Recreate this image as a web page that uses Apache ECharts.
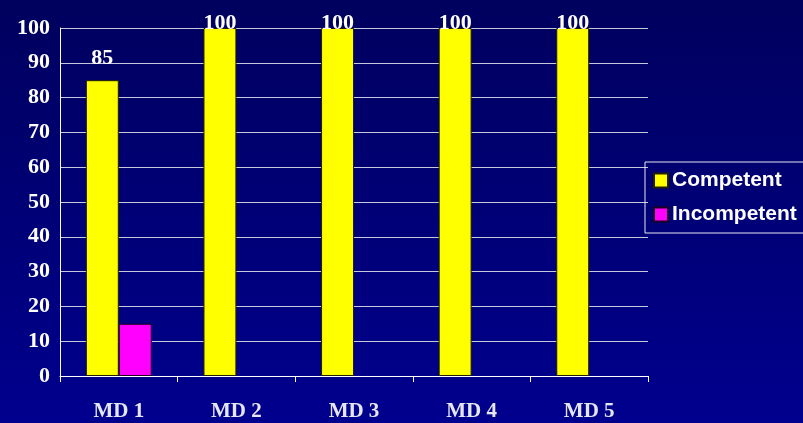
<!DOCTYPE html>
<html><head><meta charset="utf-8">
<script src="https://cdn.jsdelivr.net/npm/echarts@6/dist/echarts.min.js"></script>
<style>html,body{margin:0;padding:0;background:#000070;}#c{width:803px;height:423px;}</style>
</head><body><div id="c"></div>
<script>
const categories = ['MD 1','MD 2','MD 3','MD 4','MD 5'];
const competent = [85,100,100,100,100];
const incompetent = [15,0,0,0,0];
const yTicks = [0,10,20,30,40,50,60,70,80,90,100];

const chart = echarts.init(document.getElementById('c'));
const serif = '"Liberation Serif","Times New Roman",serif';
chart.setOption({
  backgroundColor: {type:'linear',x:0,y:0,x2:0,y2:1,colorStops:[{offset:0,color:'#00005e'},{offset:1,color:'#00008e'}]},
  animation:false,
  grid:{left:60,right:155,top:28,bottom:47},
  legend:{
    left:645, top:162, orient:'vertical',
    itemWidth:14,itemHeight:14,itemGap:13,
    padding:[8,10,8,8],
    borderColor:'#e8e8f0',borderWidth:1,
    textStyle:{color:'#ffffff',fontFamily:'"Liberation Sans",Arial,sans-serif',fontWeight:'bold',fontSize:21,padding:[0,0,0,-1]},
    data:[{name:'Competent',icon:'rect'},{name:'Incompetent',icon:'rect'}]
  },
  xAxis:{
    type:'category',data:categories,
    axisLine:{lineStyle:{color:'#ffffff',width:1}},
    axisTick:{show:true,length:6,lineStyle:{color:'#ffffff'}},
    axisLabel:{color:'#e6e6f0',fontFamily:serif,fontWeight:'bold',fontSize:21,margin:25}
  },
  yAxis:{
    type:'value',min:0,max:100,interval:10,
    axisLine:{show:true,lineStyle:{color:'#ffffff'}},
    axisTick:{show:false},
    splitLine:{lineStyle:{color:'#c8c8dc',width:1}},
    axisLabel:{color:'#ffffff',fontFamily:serif,fontWeight:'bold',fontSize:22,margin:10,
      formatter:v=>yTicks.includes(v)?String(v):''}
  },
  series:[
    {name:'Competent',type:'bar',barGap:'0%',barCategoryGap:'44%',
     itemStyle:{color:'#ffff00',borderColor:'#202000',borderWidth:1},
     label:{show:true,position:'top',color:'#ffffff',fontFamily:serif,fontWeight:'bold',fontSize:22},
     data:competent.map(v=>({value:v,label:{distance:v<100?11:-6}}))},
    {name:'Incompetent',type:'bar',
     itemStyle:{color:'#ff00ff',borderColor:'#200020',borderWidth:1},
     data:incompetent.map(v=>v===0?{value:0,itemStyle:{opacity:0}}:v)}
  ]
});
</script></body></html>
